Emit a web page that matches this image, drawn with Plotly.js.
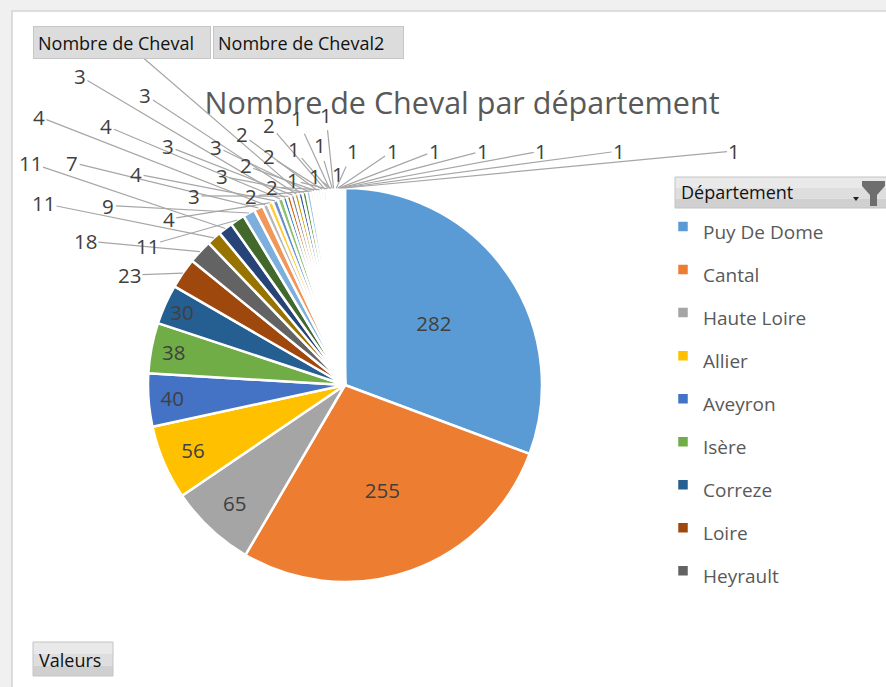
<!DOCTYPE html>
<html><head><meta charset="utf-8">
<script src="https://cdn.plot.ly/plotly-3.0.1.min.js"></script>
<style>html,body{margin:0;padding:0;background:#f0f0f0;} #chart{width:886px;height:687px;}</style>
</head><body><div id="chart"></div>
<script>
// ---- data ----
const departements = [
  "Puy De Dome","Cantal","Haute Loire","Allier","Aveyron","Isère","Correze","Loire","Heyrault",
  "Dép. 10","Dép. 11","Dép. 12","Dép. 13","Dép. 14","Dép. 15","Dép. 16","Dép. 17","Dép. 18",
  "Dép. 19","Dép. 20","Dép. 21","Dép. 22","Dép. 23","Dép. 24","Dép. 25","Dép. 26","Dép. 27",
  "Dép. 28","Dép. 29","Dép. 30","Dép. 31","Dép. 32","Dép. 33","Dép. 34","Dép. 35","Dép. 36",
  "Dép. 37","Dép. 38","Dép. 39","Dép. 40","Dép. 41","Dép. 42","Dép. 43","Dép. 44","Dép. 45"
];
const nombreCheval = [
  282,255,65,56,40,38,30,23,18,
  11,11,11,9,7,4,4,4,4,
  3,3,3,3,3,3,3,2,2,
  2,2,2,2,1,1,1,1,1,
  1,1,1,1,1,1,1,1,1
];
const chartTitle = "Nombre de Cheval par département";
const legendTitle = "Département";
const fieldButtons = ["Nombre de Cheval", "Nombre de Cheval2"];
const valuesButton = "Valeurs";

// ---- style ----
const sliceColors = [
  "#5B9BD5","#ED7D31","#A5A5A5","#FFC000","#4472C4","#70AD47",
  "#255E91","#9E480E","#636363","#997300","#264478","#43682B",
  "#7CAFDD","#F1975A","#B7B7B7","#FFCD33","#698ED0","#8CC168",
  "#327DC2","#D26012","#848484","#CC9A00","#335AA1","#5A8A39",
  "#9DC3E6","#F4B183","#C9C9C9","#FFD966","#8FAADC","#A9D18E",
  "#1F4E79","#843C0C","#525252","#7F6000","#203864","#385723",
  "#BDD7EE","#F8CBAD","#DBDBDB","#FFE699","#B4C7E7","#C5E0B4",
  "#2E75B6","#C55A11","#7B7B7B"
];
const W = 886, H = 687;
const X = p => p / W, Y = p => 1 - p / H;
const FONT = "Open Sans, Noto Sans, sans-serif";
const INSIDE_MIN = 30;   // values shown inside their slice; smaller ones get leader-line labels
const RIGHT_FAN = 7;     // the last small labels are fanned out to the right

function button(x0, y0, x1, y1) {
  const bands = [["#e9e9e9", 0, 0.35], ["#dedede", 0.35, 0.7], ["#d0d0d0", 0.7, 1]];
  const out = bands.map(([c, a, b]) => ({
    type: "rect", xref: "paper", yref: "paper", layer: "above",
    x0: X(x0), x1: X(x1), y0: Y(y0 + (y1 - y0) * a), y1: Y(y0 + (y1 - y0) * b),
    fillcolor: c, line: {width: 0}
  }));
  out.push({type: "rect", xref: "paper", yref: "paper", layer: "above",
    x0: X(x0), x1: X(x1), y0: Y(y0), y1: Y(y1),
    fillcolor: "rgba(0,0,0,0)", line: {color: "#c4c4c4", width: 1}});
  return out;
}
function pathPx(pts) {
  return "M" + pts.map(p => X(p[0]) + "," + Y(p[1])).join("L") + "Z";
}

const shapes = [
  {type: "rect", xref: "paper", yref: "paper", layer: "below",
   x0: X(12), x1: X(890), y0: Y(11), y1: Y(690),
   fillcolor: "#ffffff", line: {color: "#d4d4d4", width: 1.5}},
  ...button(675, 177, 890, 208),
  ...button(33, 642, 113, 676),
  {type: "path", xref: "paper", yref: "paper", layer: "above",
   path: pathPx([[853, 197], [859, 197], [856, 201]]), fillcolor: "#202020", line: {width: 0}},
  {type: "path", xref: "paper", yref: "paper", layer: "above",
   path: pathPx([[862, 181], [885, 181], [885, 186], [877, 195], [877, 206], [870, 206], [870, 195], [862, 186]]),
   fillcolor: "#6e6e6e", line: {width: 0}}
];

const btnFont = {family: FONT, size: 18, color: "#111111"};
function fieldButton(text, x0, y0, x1, y1) {
  return {text: text, xref: "paper", yref: "paper", x: X(x0), y: Y(y0),
    xanchor: "left", yanchor: "top", showarrow: false, align: "left", valign: "middle",
    width: x1 - x0 - 10, height: y1 - y0 - 10, borderpad: 4, borderwidth: 1,
    bgcolor: "#dcdcdc", bordercolor: "#c6c6c6", font: btnFont};
}
const fixedAnnotations = [
  fieldButton(fieldButtons[0], 33, 26, 211, 59),
  fieldButton(fieldButtons[1], 213, 26, 404, 59),
  {text: legendTitle, xref: "paper", yref: "paper", x: X(679), y: Y(192),
   xanchor: "left", yanchor: "middle", showarrow: false, font: btnFont},
  {text: valuesButton, xref: "paper", yref: "paper", x: X(37), y: Y(660),
   xanchor: "left", yanchor: "middle", showarrow: false, font: btnFont}
];

const trace = {
  type: "pie",
  labels: departements.map(d => '<span style="font-size:19px">' + d + '</span>'),
  values: nombreCheval,
  sort: false,
  direction: "clockwise",
  rotation: 0,
  texttemplate: nombreCheval.map(v => v >= INSIDE_MIN ? "%{value}" : ""),
  textposition: "inside",
  insidetextorientation: "horizontal",
  insidetextfont: {family: FONT, size: 20.5, color: "#404040"},
  marker: {colors: sliceColors, line: {color: "#ffffff", width: 2.5}},
  domain: {x: [X(148), X(542)], y: [Y(582), Y(188)]},
  automargin: false,
  hoverinfo: "label+value+percent"
};

const layout = {
  width: W, height: H,
  margin: {l: 0, r: 0, t: 0, b: 0},
  paper_bgcolor: "#f0f0f0",
  font: {family: FONT, color: "#595959"},
  title: {text: chartTitle, x: X(462), xanchor: "center", y: Y(103), yanchor: "middle",
          font: {family: FONT, size: 30.5, color: "#595959"}},
  showlegend: true,
  legend: {x: X(663), xanchor: "left", y: Y(200), yanchor: "top",
           bgcolor: "rgba(0,0,0,0)", font: {family: FONT, size: 30.8, color: "#595959"},
           maxheight: 388},
  uniformtext: {mode: "show", minsize: 20.5},
  shapes: shapes,
  annotations: fixedAnnotations
};

Plotly.newPlot("chart", [trace], layout, {displayModeBar: false, staticPlot: true}).then(gd => {
  // leader-line labels for the small slices, anchored on the slice geometry Plotly computed
  const cd = gd.calcdata[0];
  const cd0 = cd[0];
  const cx = cd0.cx, cy = cd0.cy, r = cd0.r;
  const small = cd.filter(p => p.v < INSIDE_MIN);
  const n = small.length;
  const nLeft = n - RIGHT_FAN;
  const deg = Math.PI / 180;
  const rowY = cy - r - 37;
  const labelAnns = small.map((pt, k) => {
    const m = pt.midangle;
    const axp = cx + r * Math.sin(m), ayp = cy - r * Math.cos(m);
    let lx, ly;
    if (k < nLeft) {
      const psiDeg = 297 + 61 * k / Math.max(nLeft - 1, 1);
      const psi = psiDeg * deg;
      let d = psiDeg < 330 ? r + 45 + 55 * (k % 4) : r + 14 + 30 * (k % 3);
      const c = Math.cos(psi);
      if (c > 0) d = Math.min(d, (cy - 45) / c);
      lx = Math.max(cx + d * Math.sin(psi), 30);
      ly = cy - d * c;
    } else {
      const j = k - nLeft;
      const psi = (2 + 57 * j / Math.max(RIGHT_FAN - 1, 1)) * deg;
      ly = rowY;
      lx = cx + (cy - rowY) * Math.tan(psi);
    }
    return {
      xref: "paper", yref: "paper", x: X(axp), y: Y(ayp),
      ax: lx - axp, ay: ly - ayp, axref: "pixel", ayref: "pixel",
      text: String(pt.v), showarrow: true, arrowhead: 0, arrowwidth: 1.2,
      arrowcolor: "#a6a6a6", standoff: 0, startstandoff: 0,
      font: {family: FONT, size: 20.5, color: "#404040"}
    };
  });
  return Plotly.relayout(gd, {annotations: labelAnns.concat(fixedAnnotations)});
});
</script>
</body></html>
